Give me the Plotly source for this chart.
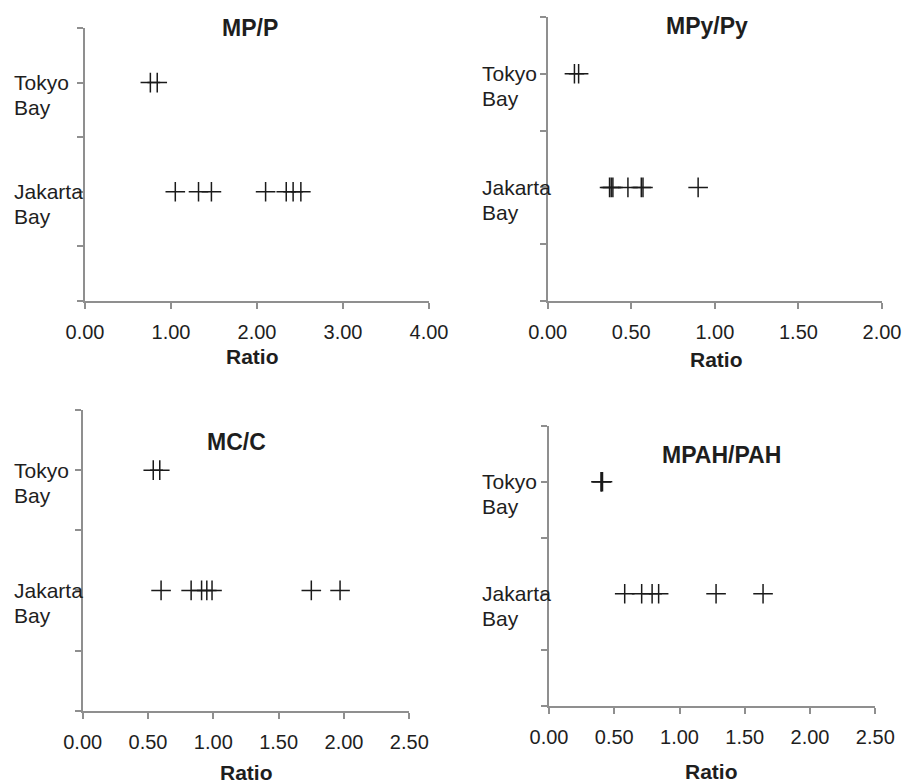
import plotly.graph_objects as go

# ---- data ----
sites = ["Tokyo<br>Bay", "Jakarta<br>Bay"]
site_pos = [2, 1]

mp_tokyo = [0.76, 0.84]
mp_jakarta = [1.05, 1.32, 1.47, 2.10, 2.34, 2.42, 2.51]

mpy_tokyo = [0.16, 0.185]
mpy_jakarta = [0.37, 0.38, 0.39, 0.48, 0.56, 0.57, 0.90]

mc_tokyo = [0.54, 0.59]
mc_jakarta = [0.60, 0.83, 0.91, 0.95, 0.99, 1.75, 1.97]

mpah_tokyo = [0.40, 0.40, 0.41]
mpah_jakarta = [0.58, 0.71, 0.79, 0.84, 1.28, 1.64]

titles = ["MP/P", "MPy/Py", "MC/C", "MPAH/PAH"]
x_max = [4.0, 2.0, 2.5, 2.5]
x_step = [1.0, 0.5, 0.5, 0.5]
y_ticks = [0, 0.5, 1, 1.5, 2, 2.5]

panels = [
    (mp_tokyo, mp_jakarta),
    (mpy_tokyo, mpy_jakarta),
    (mc_tokyo, mc_jakarta),
    (mpah_tokyo, mpah_jakarta),
]

W, H = 912, 784
OFF = 8  # page offset of the figure inside the browser window
# layout in screen pixels: (left, right, top, bottom)
boxes = [
    (85, 429, 28, 301),
    (547.7, 882, 17, 301),
    (82.7, 409.3, 410, 710.7),
    (549, 875.3, 425.7, 705.7),
]
title_pos = [(250, 27.5), (707, 26), (237, 441.7), (721.7, 455)]
ratio_pos = [(252, 356), (716, 359), (246.7, 772), (711.7, 771)]
label_x = [12, 480, 12, 480]
LINE_GAP = 25

AX = "#8f8f8f"
TXT = "#1e1e1e"
FONT = "Liberation Sans, Arial, sans-serif"


def px(v):
    return (v - OFF) / W


def py(v):
    return 1 - (v - OFF) / H


fig = go.Figure()
layout = dict(
    width=W, height=H, autosize=False,
    margin=dict(l=0, r=0, t=0, b=0, pad=0),
    paper_bgcolor="white", plot_bgcolor="white",
    showlegend=False,
    font=dict(family=FONT, color=TXT, size=21),
)
annotations = []

for i, ((tok, jak), box) in enumerate(zip(panels, boxes)):
    n = "" if i == 0 else str(i + 1)
    xa, ya = "x" + n, "y" + n
    l, r, t, b = box
    xs = list(tok) + list(jak)
    ys = [site_pos[0]] * len(tok) + [site_pos[1]] * len(jak)
    fig.add_trace(go.Scatter(
        x=xs, y=ys, xaxis=xa, yaxis=ya, mode="markers",
        marker=dict(symbol="cross-thin", size=14,
                    line=dict(width=1.5, color="#1a1a1a")),
        hoverinfo="x",
    ))
    nt = int(round(x_max[i] / x_step[i]))
    layout["xaxis" + n] = dict(
        domain=[px(l), px(r)], anchor=ya, range=[0, x_max[i]],
        tickvals=[k * x_step[i] for k in range(nt + 1)], tickformat=".2f",
        showline=True, linecolor=AX, linewidth=2,
        ticks="outside", ticklen=6, tickwidth=2, tickcolor=AX,
        showgrid=False, zeroline=False, ticklabelstandoff=6,
        automargin=False,
        tickfont=dict(size=20, color=TXT, family=FONT),
    )
    layout["yaxis" + n] = dict(
        domain=[py(b), py(t)], anchor=xa, range=[0, 2.5],
        tickvals=y_ticks, showticklabels=False,
        showline=True, linecolor=AX, linewidth=2,
        ticks="outside", ticklen=6, tickwidth=2, tickcolor=AX,
        showgrid=False, zeroline=False, automargin=False,
    )
    for s, p in zip(sites, site_pos):
        for k, part in enumerate(s.split("<br>")):
            annotations.append(dict(
                text=part, xref="paper", yref=ya, x=px(label_x[i]), y=p,
                xanchor="left", yanchor="middle", align="left",
                yshift=-k * LINE_GAP,
                showarrow=False, font=dict(size=21, color=TXT, family=FONT),
            ))
    tx, ty = title_pos[i]
    annotations.append(dict(
        text="<b>" + titles[i] + "</b>", xref="paper", yref="paper",
        x=px(tx), y=py(ty), xanchor="center", yanchor="middle",
        showarrow=False, font=dict(size=23, color=TXT, family=FONT),
    ))
    rx, ry = ratio_pos[i]
    annotations.append(dict(
        text="<b>Ratio</b>", xref="paper", yref="paper",
        x=px(rx), y=py(ry), xanchor="center", yanchor="middle",
        showarrow=False, font=dict(size=21, color=TXT, family=FONT),
    ))

layout["annotations"] = annotations
fig.update_layout(**layout)
fig.write_html("out.html")
